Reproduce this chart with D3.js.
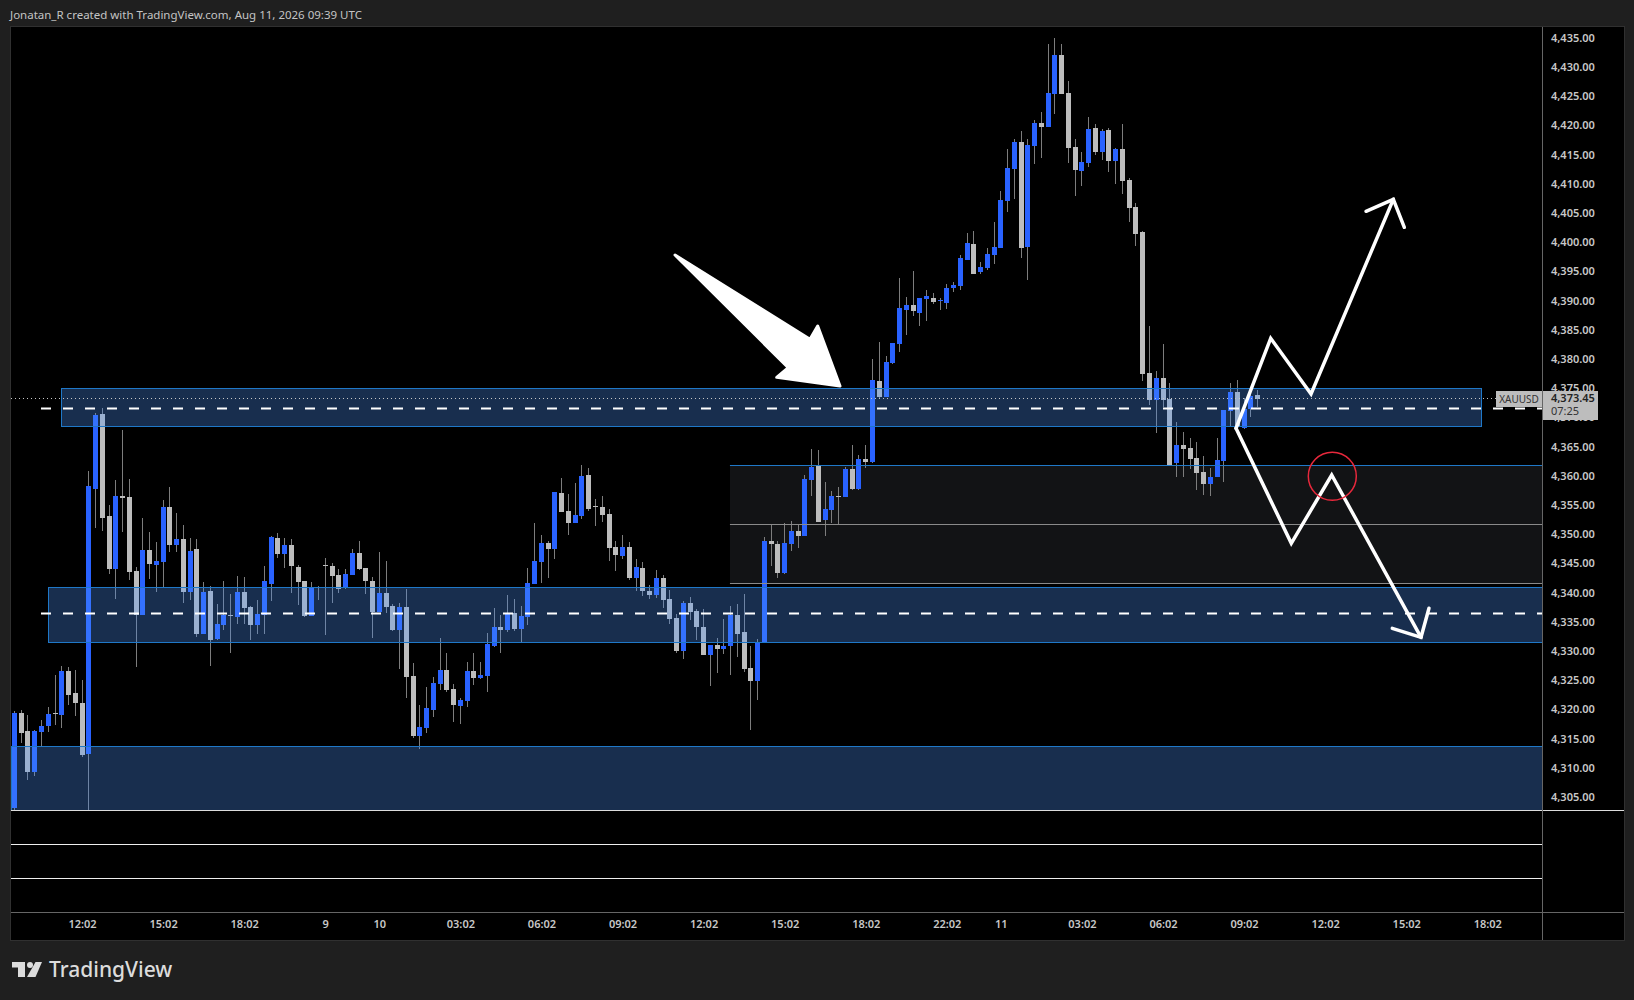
<!DOCTYPE html>
<html>
<head>
<meta charset="utf-8">
<script src="https://d3js.org/d3.v7.min.js"></script>
<style>
html, body { margin: 0; padding: 0; background: #1f1f1f; }
svg { display: block; }
text { font-family: "Noto Sans", sans-serif; }
</style>
</head>
<body>
<div id="chart"></div>
<script>
// 15 minute candles
var opens = [
4303.1,4319.4,4316.3,4309.2,4316.1,4317.2,4319.4,4319.0,4326.6,4322.8,
4321.1,4312.4,4357.7,4370.6,4353.1,4344.0,4356.5,4356.4,4343.7,4336.2,
4347.3,4344.7,4345.2,4354.7,4348.1,4349.2,4340.1,4347.5,4332.9,4340.3,
4332.0,4334.4,4336.2,4335.8,4340.1,4337.5,4334.4,4336.2,4341.5,4349.3,
4346.6,4348.1,4344.4,4342.0,4336.0,4340.9,4344.7,4344.5,4343.0,4340.8,
4343.0,4346.8,4344.2,4342.0,4336.7,4339.9,4337.7,4333.6,4337.5,4325.7,
4315.4,4316.8,4319.9,4324.3,4326.7,4323.5,4320.6,4321.4,4326.6,4325.4,
4325.7,4330.9,4334.1,4333.6,4336.5,4333.8,4335.8,4341.5,4345.2,4348.5,
4347.5,4357.0,4354.0,4351.9,4353.1,4360.1,4354.8,4354.7,4353.5,4347.8,
4346.3,4347.8,4342.5,4344.2,4340.3,4339.6,4342.5,4338.9,4335.6,4330.0,
4338.2,4336.8,4334.1,4329.3,4331.0,4330.3,4330.9,4336.2,4333.2,4327.1,
4324.9,4331.6,4348.8,4348.3,4343.4,4348.3,4350.5,4349.7,4359.3,4361.7,
4352.4,4354.1,4356.5,4356.4,4361.2,4357.7,4362.9,4362.4,4376.2,4373.5,
4379.3,4382.6,4388.4,4389.2,4387.9,4390.3,4390.4,4389.9,4389.6,4392.1,
4392.5,4396.9,4399.7,4394.9,4395.6,4397.8,4399.0,4407.0,4412.5,4417.1,
4399.2,4416.5,4420.4,4419.7,4425.4,4432.0,4425.5,4416.3,4412.2,4413.5,
4419.6,4415.4,4419.2,4413.9,4415.9,4410.6,4406.0,4401.7,4377.6,4373.0,
4376.7,4373.1,4362.2,4365.3,4364.8,4363.0,4360.6,4358.6,4359.8,4362.5,
4371.1,4374.3,4368.2,4371.4,4373.8
];
var closes = [
4319.4,4316.0,4309.2,4316.3,4317.1,4319.2,4319.3,4326.6,4322.5,4321.1,
4312.2,4358.2,4370.4,4352.8,4344.0,4356.5,4356.2,4343.5,4336.2,4347.3,
4344.9,4345.4,4354.7,4348.1,4349.2,4340.1,4347.1,4332.9,4340.1,4331.9,
4334.6,4336.2,4336.0,4340.1,4337.4,4334.4,4336.3,4342.0,4349.5,4346.6,
4348.1,4344.5,4341.8,4336.0,4340.9,4340.8,4344.5,4342.8,4340.6,4343.2,
4346.8,4344.0,4342.0,4336.7,4339.9,4337.5,4333.6,4337.5,4325.5,4315.4,
4317.0,4320.2,4324.5,4326.7,4323.3,4320.7,4321.6,4326.6,4325.4,4325.9,
4331.2,4334.1,4333.6,4336.5,4333.8,4336.0,4341.6,4345.4,4348.5,4347.5,
4357.2,4353.8,4351.9,4353.3,4360.0,4354.3,4354.7,4353.3,4347.6,4346.4,
4347.8,4342.5,4344.4,4340.3,4339.6,4342.5,4338.7,4335.5,4330.0,4338.2,
4336.7,4334.1,4329.3,4331.0,4330.3,4330.9,4336.2,4332.9,4326.9,4324.9,
4331.6,4348.8,4348.3,4343.4,4348.5,4350.5,4349.7,4359.4,4361.5,4352.1,
4354.3,4356.5,4356.4,4361.2,4357.7,4362.9,4362.4,4376.4,4373.5,4379.5,
4382.7,4388.7,4389.2,4388.2,4390.4,4390.8,4389.8,4390.1,4392.1,4392.7,
4397.3,4399.9,4394.5,4395.7,4398.0,4399.2,4407.2,4412.7,4417.1,4399.0,
4416.6,4420.4,4419.7,4425.5,4432.0,4425.4,4416.1,4412.3,4413.7,4419.4,
4415.4,4419.0,4413.9,4415.9,4410.5,4405.8,4401.4,4377.4,4373.0,4376.7,
4373.0,4361.8,4365.3,4364.6,4362.9,4360.5,4358.6,4359.8,4362.7,4371.3,
4374.3,4368.5,4371.5,4373.6,4373.1
];
var highs = [
4319.7,4319.9,4319.0,4316.5,4318.1,4320.4,4325.9,4327.4,4327.2,4326.7,
4325.0,4360.8,4370.7,4371.6,4355.0,4359.3,4367.8,4359.4,4344.4,4352.8,
4350.4,4348.7,4355.9,4358.1,4353.6,4351.6,4349.3,4349.2,4341.8,4341.1,
4338.0,4342.0,4339.8,4342.8,4342.7,4337.7,4338.7,4344.5,4349.7,4350.2,
4349.3,4349.2,4344.7,4342.0,4341.8,4341.1,4345.9,4345.1,4344.0,4344.0,
4347.5,4348.8,4344.2,4342.7,4347.0,4345.4,4338.0,4338.2,4340.6,4327.9,
4320.7,4323.8,4325.5,4332.2,4329.7,4324.3,4322.0,4328.1,4329.7,4328.1,
4333.1,4337.4,4336.2,4339.6,4338.9,4337.7,4344.2,4351.9,4349.9,4348.8,
4357.2,4359.6,4356.9,4358.8,4361.8,4361.3,4356.0,4356.5,4354.3,4348.8,
4349.9,4348.7,4345.8,4345.2,4341.3,4343.9,4343.0,4340.4,4336.3,4338.6,
4339.2,4337.2,4337.2,4331.0,4332.2,4335.5,4337.7,4338.0,4339.8,4330.9,
4332.0,4349.5,4351.6,4348.8,4351.9,4352.3,4351.6,4360.1,4364.6,4364.4,
4358.9,4357.4,4358.1,4361.5,4365.3,4363.6,4365.3,4380.0,4382.9,4380.5,
4382.7,4393.9,4390.6,4395.0,4390.4,4391.8,4391.3,4390.4,4392.8,4393.2,
4397.8,4401.6,4401.9,4396.6,4399.0,4403.4,4408.8,4415.9,4417.7,4419.0,
4417.7,4420.9,4422.3,4433.9,4434.9,4433.9,4427.6,4417.7,4415.4,4421.4,
4420.2,4419.4,4419.6,4416.1,4420.2,4411.0,4406.7,4401.9,4385.6,4377.9,
4382.6,4375.9,4369.2,4367.5,4366.5,4365.8,4363.4,4361.3,4366.5,4371.3,
4375.9,4376.4,4373.3,4373.8,4374.7
];
var lows = [
4302.7,4314.2,4307.9,4308.6,4313.7,4316.1,4317.3,4316.8,4320.7,4318.9,
4311.8,4302.8,4351.0,4350.5,4343.2,4338.9,4350.4,4342.2,4327.3,4336.2,
4342.3,4340.1,4340.8,4347.0,4347.0,4338.2,4338.7,4332.4,4332.9,4327.4,
4331.9,4333.6,4329.7,4334.6,4334.6,4331.9,4332.9,4332.9,4338.6,4345.9,
4344.2,4339.9,4337.9,4335.8,4336.0,4338.7,4332.7,4338.2,4339.9,4340.6,
4343.0,4343.9,4339.8,4332.2,4336.7,4336.5,4333.4,4326.9,4322.0,4315.1,
4313.2,4315.9,4318.7,4323.3,4323.0,4317.8,4317.5,4320.4,4324.2,4325.2,
4323.0,4330.7,4329.7,4333.2,4333.4,4331.4,4334.4,4341.5,4341.6,4342.5,
4345.8,4353.8,4349.9,4351.9,4352.6,4354.0,4351.4,4352.1,4345.4,4343.7,
4345.8,4342.2,4340.3,4339.4,4338.9,4339.1,4337.4,4334.6,4329.7,4328.6,
4335.3,4331.9,4329.3,4324.0,4326.2,4329.5,4325.9,4329.0,4326.4,4316.5,
4321.6,4331.6,4344.5,4342.5,4343.2,4347.1,4347.6,4349.7,4356.5,4352.1,
4349.7,4351.9,4351.7,4356.4,4357.6,4357.6,4361.3,4362.2,4373.3,4373.5,
4379.1,4381.2,4384.1,4387.4,4385.6,4386.5,4389.4,4388.4,4388.5,4391.5,
4391.8,4396.9,4394.5,4394.5,4395.2,4396.3,4399.0,4405.2,4407.4,4397.3,
4393.5,4413.4,4414.4,4419.7,4421.9,4425.4,4413.5,4407.9,4409.6,4412.9,
4414.9,4414.1,4412.0,4410.0,4408.2,4403.4,4399.3,4376.2,4372.1,4367.3,
4371.8,4361.8,4359.8,4359.8,4361.2,4357.6,4356.7,4356.5,4359.8,4358.9,
4368.5,4368.2,4368.0,4370.1,4371.7
];

var priceTicks = [4305,4310,4315,4320,4325,4330,4335,4340,4345,4350,4355,4360,4365,4370,4375,4380,4385,4390,4395,4400,4405,4410,4415,4420,4425,4430,4435];
var timeTickBars = [10,22,34,46,54,66,78,90,102,114,126,138,146,158,170,182,194,206,218];
var timeTickLabels = ["12:02","15:02","18:02","9","10","03:02","06:02","09:02","12:02","15:02","18:02","22:02","11","03:02","06:02","09:02","12:02","15:02","18:02"];

// drawn zones: first bar, last bar, top price, bottom price
var zoneLeft = [6.89, 5.0, -0.5];
var zoneRight = [217.02, 226.5, 226.5];
var zoneTop = [4375.0, 4340.9, 4313.7];
var zoneBottom = [4368.5, 4331.6, 4302.7];
var dashedLevels = [4371.6, 4336.5];
var boxLevels = [4361.8, 4351.7, 4341.7];
var extraLevels = [4296.9, 4291.1];

// annotations as [bar, price]
var bigArrow = [[97.77,4397.8],[117.75,4383.37],[118.89,4385.65],[122.19,4375.37],[112.82,4376.86],[114.54,4378.51]];
var upPath = [[180.81,4368.13],[185.94,4383.54],[191.91,4374.0],[204.09,4407.34]];
var upHead = [[200.05,4405.29],[204.09,4407.34],[205.72,4402.55]];
var downPath = [[180.81,4368.13],[188.99,4348.44],[194.97,4360.13],[208.19,4332.34]];
var downHead = [[203.94,4333.88],[208.19,4332.34],[209.37,4337.31]];
var circleAt = [195.06, 4359.91];

var lastPriceLevel = 4373.28;
var lastPriceText = "4,373.45";
var countdownText = "07:25";
var symbolText = "XAUUSD";
var titleText = "Jonatan_R created with TradingView.com, Aug 11, 2026 09:39 UTC";

var width = 1634, height = 1000;
var plotLeft = 11, plotRight = 1542, plotTop = 27, plotBottom = 912, panelRight = 1624, panelBottom = 940;

var svg = d3.select("#chart").append("svg")
    .attr("width", width)
    .attr("height", height);

svg.append("rect").attr("width", width).attr("height", height).attr("fill", "#1f1f1f");

// panel with its thin border
svg.append("rect")
    .attr("x", plotLeft - 0.5).attr("y", plotTop - 0.5)
    .attr("width", panelRight - plotLeft + 1).attr("height", panelBottom - plotTop + 1)
    .attr("fill", "#000")
    .attr("stroke", "#303030");

// bar index to pixel, 6.756px per bar
var x = d3.scaleLinear().domain([0, 218]).range([14.48, 14.48 + 6.756 * 218]);
var y = d3.scaleLinear().domain([4430, 4330]).range([66.98, 650.98]);

svg.append("defs").append("clipPath").attr("id", "plotClip")
    .append("rect")
    .attr("x", plotLeft).attr("y", plotTop)
    .attr("width", plotRight - plotLeft).attr("height", plotBottom - plotTop);

var plot = svg.append("g").attr("clip-path", "url(#plotClip)");

// the grey box with its three levels sits under the candles
plot.append("rect")
    .attr("x", Math.round(x(105.9)))
    .attr("y", Math.round(y(boxLevels[0])))
    .attr("width", plotRight - Math.round(x(105.9)))
    .attr("height", Math.round(y(boxLevels[2])) - Math.round(y(boxLevels[0])))
    .attr("fill", "#121315");

var bars = plot.selectAll(".bar")
    .data(opens)
    .enter().append("g")
    .attr("class", "bar");

bars.append("rect")
    .attr("x", function(d, i) { return Math.round(x(i) - 2.5) + 2; })
    .attr("y", function(d, i) { return Math.round(y(highs[i])); })
    .attr("width", 1)
    .attr("height", function(d, i) { return Math.max(1, Math.round(y(lows[i])) - Math.round(y(highs[i]))); })
    .attr("fill", "#7d7d7d");

bars.append("rect")
    .attr("x", function(d, i) { return Math.round(x(i) - 2.5); })
    .attr("y", function(d, i) { return Math.round(y(Math.max(opens[i], closes[i]))); })
    .attr("width", 5)
    .attr("height", function(d, i) {
        return Math.max(1, Math.round(y(Math.min(opens[i], closes[i]))) - Math.round(y(Math.max(opens[i], closes[i]))));
    })
    .attr("fill", function(d, i) { return closes[i] > opens[i] ? "#2962ff" : "#bdbdbd"; });

// box levels
plot.selectAll(".boxline")
    .data(boxLevels)
    .enter().append("line")
    .attr("class", "boxline")
    .attr("x1", x(105.9)).attr("x2", plotRight)
    .attr("y1", function(d) { return Math.round(y(d)) + 0.5; })
    .attr("y2", function(d) { return Math.round(y(d)) + 0.5; })
    .attr("stroke", function(d, i) { return i == 0 ? "#1f78c8" : "#8a8a8a"; });

// zones go over the candles, they are see-through
plot.selectAll(".zone")
    .data(zoneTop)
    .enter().append("rect")
    .attr("class", "zone")
    .attr("x", function(d, i) { return Math.round(x(zoneLeft[i])) + 0.5; })
    .attr("y", function(d) { return Math.round(y(d)) + 0.5; })
    .attr("width", function(d, i) { return Math.round(x(zoneRight[i])) - Math.round(x(zoneLeft[i])); })
    .attr("height", function(d, i) { return Math.round(y(zoneBottom[i])) - Math.round(y(d)); })
    .attr("fill", "rgba(77,148,251,0.31)")
    .attr("stroke", "#1f78c8");

// dashed levels
plot.selectAll(".dashed")
    .data(dashedLevels)
    .enter().append("line")
    .attr("class", "dashed")
    .attr("x1", 41).attr("x2", plotRight)
    .attr("y1", function(d) { return Math.round(y(d)) + 0.5; })
    .attr("y2", function(d) { return Math.round(y(d)) + 0.5; })
    .attr("stroke", "#fff")
    .attr("stroke-width", 2)
    .attr("stroke-dasharray", "10 12");

// white lines under the chart
plot.selectAll(".extra")
    .data(extraLevels)
    .enter().append("line")
    .attr("class", "extra")
    .attr("x1", plotLeft).attr("x2", plotRight)
    .attr("y1", function(d) { return Math.round(y(d)) + 0.5; })
    .attr("y2", function(d) { return Math.round(y(d)) + 0.5; })
    .attr("stroke", "#eee");

svg.append("line")
    .attr("x1", plotLeft).attr("x2", panelRight)
    .attr("y1", Math.round(y(zoneBottom[2])) + 0.5)
    .attr("y2", Math.round(y(zoneBottom[2])) + 0.5)
    .attr("stroke", "#ddd");

// last price dotted line
plot.append("line")
    .attr("x1", plotLeft).attr("x2", 1496)
    .attr("y1", Math.round(y(lastPriceLevel)) + 0.5)
    .attr("y2", Math.round(y(lastPriceLevel)) + 0.5)
    .attr("stroke", "#c8c8c8")
    .attr("stroke-dasharray", "1 3");

// annotations
var line = d3.line()
    .x(function(d) { return x(d[0]); })
    .y(function(d) { return y(d[1]); });

svg.append("path")
    .attr("d", line(bigArrow) + "Z")
    .attr("fill", "#fff")
    .attr("stroke", "#fff")
    .attr("stroke-width", 3)
    .attr("stroke-linejoin", "round");

[upPath, upHead, downPath, downHead].forEach(function(p) {
    svg.append("path")
        .attr("d", line(p))
        .attr("fill", "none")
        .attr("stroke", "#fff")
        .attr("stroke-width", 3.5)
        .attr("stroke-linejoin", "miter")
        .attr("stroke-linecap", "round");
});

svg.append("circle")
    .attr("cx", x(circleAt[0]))
    .attr("cy", y(circleAt[1]))
    .attr("r", 24)
    .attr("fill", "none")
    .attr("stroke", "#e8283c")
    .attr("stroke-width", 1.5);

// axis frames
svg.append("line").attr("x1", plotRight + 0.5).attr("x2", plotRight + 0.5)
    .attr("y1", plotTop).attr("y2", panelBottom).attr("stroke", "#666");
svg.append("line").attr("x1", plotLeft).attr("x2", panelRight)
    .attr("y1", plotBottom + 0.5).attr("y2", plotBottom + 0.5).attr("stroke", "#666");

// price axis
var yAxis = svg.append("g")
    .attr("transform", "translate(" + plotRight + ",0)")
    .call(d3.axisRight(y).tickValues(priceTicks).tickSize(0).tickPadding(9).tickFormat(d3.format(",.2f")));
yAxis.select(".domain").remove();
yAxis.selectAll("text")
    .attr("fill", "#c8c8c8")
    .style("font-family", "'Noto Sans', sans-serif")
    .style("font-size", "11px")
    .style("font-weight", "600");

// time axis
var xAxis = svg.append("g")
    .attr("transform", "translate(0," + plotBottom + ")")
    .call(d3.axisBottom(x).tickValues(timeTickBars).tickSize(0).tickPadding(8)
        .tickFormat(function(d, i) { return timeTickLabels[i]; }));
xAxis.select(".domain").remove();
xAxis.selectAll("text")
    .attr("fill", "#c8c8c8")
    .style("font-family", "'Noto Sans', sans-serif")
    .style("font-size", "11px")
    .style("font-weight", "600");

// last price labels, they cover the ticks behind them
svg.append("rect").attr("x", 1496).attr("y", 391).attr("width", 46).attr("height", 16).attr("fill", "#bdbdbd");
svg.append("rect").attr("x", 1543).attr("y", 391).attr("width", 55).attr("height", 29).attr("fill", "#bdbdbd");
svg.append("text").attr("x", 1519).attr("y", 403).attr("text-anchor", "middle")
    .attr("fill", "#333").style("font-size", "10px").text(symbolText);
svg.append("text").attr("x", 1551).attr("y", 402).attr("fill", "#222")
    .style("font-size", "11px").style("font-weight", "600").text(lastPriceText);
svg.append("text").attr("x", 1551).attr("y", 415).attr("fill", "#333")
    .style("font-size", "11px").text(countdownText);

// title and footer
svg.append("text").attr("x", 10).attr("y", 19).attr("fill", "#c4c4c4")
    .style("font-size", "11.5px").text(titleText);

var logo = svg.append("g").attr("fill", "#dcdcdc");
logo.append("path").attr("d", "M12 962H25V977H18V967.5H12Z");
logo.append("circle").attr("cx", 30).attr("cy", 965).attr("r", 3);
logo.append("path").attr("d", "M35.5 962H42L35.5 977H27Z");
svg.append("text").attr("x", 49).attr("y", 977).attr("fill", "#dcdcdc")
    .style("font-size", "21px").style("font-weight", "500").text("TradingView");
</script>
</body>
</html>
